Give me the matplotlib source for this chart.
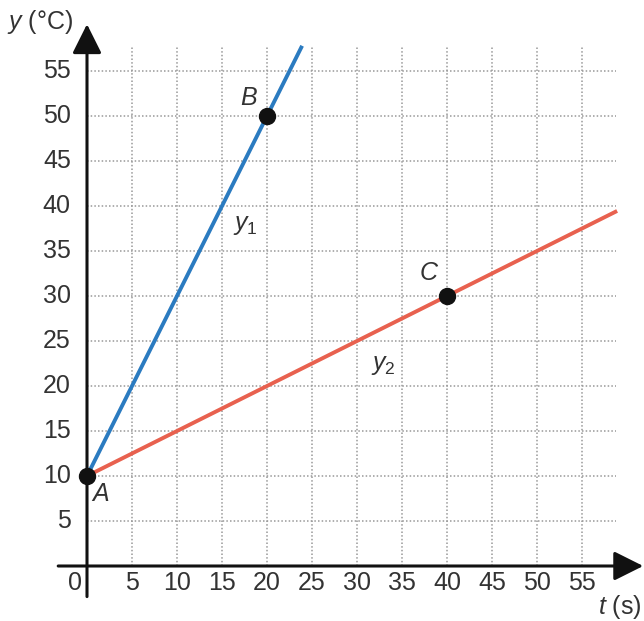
import matplotlib
matplotlib.use("Agg")
import matplotlib.pyplot as plt

plt.rcParams['font.family'] = ['Liberation Sans', 'DejaVu Sans']
plt.rcParams['mathtext.fontset'] = 'custom'
plt.rcParams['mathtext.it'] = 'Liberation Sans:italic'
plt.rcParams['mathtext.rm'] = 'Liberation Sans'

# data
ticks = [5, 10, 15, 20, 25, 30, 35, 40, 45, 50, 55]
y1_t = [0, 23.9]
y1_v = [10, 57.8]
y2_t = [0, 58.9]
y2_v = [10, 39.45]
pt_names = ["A", "B", "C"]
pt_t = [0, 20, 40]
pt_v = [10, 50, 30]
label_pos = [(1.5, 8.0), (18.0, 52.0), (38.0, 32.6)]

TXT = '#333333'
FS = 18

fig = plt.figure(figsize=(6.44, 6.21), dpi=100)
ax = fig.add_axes([0, 0, 1, 1])
ax.set_xlim(-87 / 9, (644 - 87) / 9)
ax.set_ylim(-(621 - 566) / 9, 566 / 9)
ax.axis('off')

# grid
dots = (0, (1, 1.4))
ax.vlines(ticks, 0, 57.7, colors='#999999', linestyles=[dots], lw=1.1)
ax.hlines(ticks, 0, 58.8, colors='#999999', linestyles=[dots], lw=1.1)

# axes with arrows
arrow = dict(arrowstyle='-|>,head_length=1.0,head_width=0.5', mutation_scale=18,
             lw=2.2, color='#111111', shrinkA=0, shrinkB=0)
ax.annotate('', xy=(61.8, 0), xytext=(-3.2, 0), arrowprops=arrow)
ax.annotate('', xy=(0, 60.2), xytext=(0, -3.4), arrowprops=arrow)

# tick labels
for v in ticks:
    ax.text(-1.8, v, str(v), ha='right', va='center', fontsize=FS, color=TXT)
    ax.text(v, -1.9, str(v), ha='center', va='center', fontsize=FS, color=TXT)
ax.text(-1.3, -1.9, "0", ha='center', va='center', fontsize=FS, color=TXT)

# lines
ax.plot(y1_t, y1_v, color='#2b7bc0', lw=2.8, solid_capstyle='butt')
ax.plot(y2_t, y2_v, color='#e8614f', lw=2.8, solid_capstyle='butt')
ax.plot(pt_t, pt_v, 'o', color='#111111', ms=11.5, zorder=5)

for name, (lx, ly) in zip(pt_names, label_pos):
    ax.text(lx, ly, name, fontsize=FS, style='italic', color=TXT, ha='center', va='center')

ax.text(17.6, 37.9, r'$y_1$', fontsize=FS, color=TXT, ha='center', va='center')
ax.text(32.9, 22.3, r'$y_2$', fontsize=FS, color=TXT, ha='center', va='center')

# axis titles
ax.text(-8.9, 60.4, r'$y$ (°C)', fontsize=FS, color=TXT, ha='left', va='center')
ax.text(61.6, -4.6, r'$t$ (s)', fontsize=FS, color=TXT, ha='right', va='center')

fig.savefig("out.png", dpi=100)
